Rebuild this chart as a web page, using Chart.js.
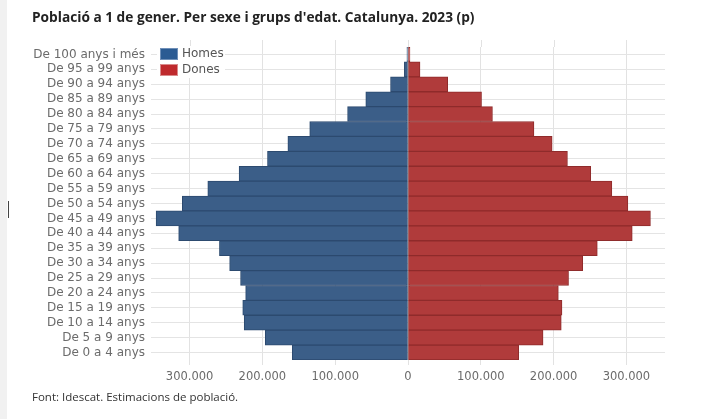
<!DOCTYPE html>
<html lang="ca">
<head>
<meta charset="utf-8">
<title>Població a 1 de gener. Per sexe i grups d'edat. Catalunya. 2023 (p)</title>
<script src="https://cdn.jsdelivr.net/npm/chart.js@4/dist/chart.umd.min.js"></script>
<style>
  html, body { margin: 0; padding: 0; background: #ffffff; }
  #wrap { position: relative; width: 702px; height: 419px; overflow: hidden; }
  #strip { position: absolute; left: 0; top: 0; width: 7px; height: 419px; background: #f1f1f1; }
  #mark { position: absolute; left: 8px; top: 201px; width: 1px; height: 17px; background: #444; }
  canvas { position: absolute; left: 0; top: 0; }
</style>
</head>
<body>
<div id="wrap">
  <div id="strip"></div>
  <div id="mark"></div>
  <canvas id="piramide" width="702" height="419"></canvas>
</div>
<script>
// Grups d'edat, de dalt a baix
const grups = [
  'De 100 anys i més', 'De 95 a 99 anys', 'De 90 a 94 anys', 'De 85 a 89 anys',
  'De 80 a 84 anys', 'De 75 a 79 anys', 'De 70 a 74 anys', 'De 65 a 69 anys',
  'De 60 a 64 anys', 'De 55 a 59 anys', 'De 50 a 54 anys', 'De 45 a 49 anys',
  'De 40 a 44 anys', 'De 35 a 39 anys', 'De 30 a 34 anys', 'De 25 a 29 anys',
  'De 20 a 24 anys', 'De 15 a 19 anys', 'De 10 a 14 anys', 'De 5 a 9 anys',
  'De 0 a 4 anys'
];

// Població per sexe (persones)
const homes = [
  1500, 5000, 24000, 58000, 83000, 135000, 165000, 193000, 232000, 275000, 310000,
  346000, 315000, 259000, 245000, 230000, 223000, 227000, 225000, 196000, 159000
];
const dones = [
  2700, 16500, 54500, 101000, 116000, 173000, 198000, 219000, 251000, 280000, 302000,
  333000, 308000, 260000, 240000, 220500, 206500, 211500, 210500, 185500, 152000
];

// Marques de l'eix horitzontal
const marques = [-300000, -200000, -100000, 0, 100000, 200000, 300000];

const titol = "Població a 1 de gener. Per sexe i grups d'edat. Catalunya. 2023 (p)";
const font = 'Font: Idescat. Estimacions de població.';

const COLOR_HOMES = '#3b5e88';
const COLOR_HOMES_VORA = '#2c4a6f';
const COLOR_DONES = '#b03b3b';
const COLOR_DONES_VORA = '#8f2b2b';
const LLETRA_EIXOS = '"DejaVu Sans", Verdana, sans-serif';

function formatMiler(v) {
  return Math.abs(v).toString().replace(/\B(?=(\d{3})+(?!\d))/g, '.');
}

// Títol, peu i llegenda dibuixats sobre el canvas
const textos = {
  id: 'textos',
  beforeDatasetsDraw(chart) {
    // les línies verticals de la graella pugen una mica per sobre de l'àrea
    const ctx = chart.ctx;
    const area = chart.chartArea;
    const x = chart.scales.x;
    ctx.save();
    ctx.strokeStyle = '#e2e2e2';
    ctx.lineWidth = 1;
    marques.forEach(v => {
      const px = Math.round(x.getPixelForValue(v)) + 0.5;
      ctx.beginPath();
      ctx.moveTo(px, area.top - 7);
      ctx.lineTo(px, area.top);
      ctx.stroke();
    });
    ctx.restore();
  },
  afterDraw(chart) {
    const ctx = chart.ctx;
    const area = chart.chartArea;
    ctx.save();
    ctx.textAlign = 'left';
    ctx.textBaseline = 'alphabetic';
    ctx.fillStyle = '#222222';
    ctx.font = 'bold 13.7px "Open Sans", sans-serif';
    ctx.fillText(titol, 32, 22);
    ctx.fillStyle = '#333333';
    ctx.font = '11.5px "Open Sans", sans-serif';
    ctx.fillText(font, 32, 401);

    // llegenda dins l'àrea del gràfic
    const lx = area.left + 6;
    const ly = area.top - 1;
    ctx.fillStyle = '#ffffff';
    ctx.fillRect(lx, ly, 68, 32);
    const entrades = [
      ['Homes', '#2b5b93', '#6f8fb8'],
      ['Dones', '#bf2a2d', '#d98a8b']
    ];
    ctx.font = '12px ' + LLETRA_EIXOS;
    ctx.textBaseline = 'middle';
    entrades.forEach((e, i) => {
      const y = ly + 3 + i * 16;
      ctx.fillStyle = e[1];
      ctx.fillRect(lx + 4, y, 16, 10);
      ctx.strokeStyle = e[2];
      ctx.lineWidth = 1;
      ctx.strokeRect(lx + 3.5, y - 0.5, 17, 11);
      ctx.fillStyle = '#555555';
      ctx.fillText(e[0], lx + 25, y + 5);
    });
    ctx.restore();
  }
};

new Chart(document.getElementById('piramide'), {
  type: 'bar',
  data: {
    labels: grups,
    datasets: [
      {
        label: 'Homes',
        data: homes.map(v => -v),
        backgroundColor: COLOR_HOMES,
        borderColor: COLOR_HOMES_VORA,
        borderWidth: 1,
        borderSkipped: false,
        barPercentage: 1,
        categoryPercentage: 1
      },
      {
        label: 'Dones',
        data: dones,
        backgroundColor: COLOR_DONES,
        borderColor: COLOR_DONES_VORA,
        borderWidth: 1,
        borderSkipped: false,
        barPercentage: 1,
        categoryPercentage: 1
      }
    ]
  },
  options: {
    indexAxis: 'y',
    responsive: false,
    animation: false,
    layout: { padding: { left: 0, top: 47, right: 37, bottom: 0 } },
    plugins: {
      legend: { display: false },
      title: { display: false },
      tooltip: { enabled: false }
    },
    scales: {
      x: {
        stacked: true,
        min: -353000,
        max: 353000,
        afterBuildTicks(scale) {
          scale.ticks = marques.map(v => ({ value: v }));
        },
        afterFit(scale) { scale.height = 59; },
        border: { display: false },
        grid: {
          color: '#e2e2e2',
          lineWidth: 1,
          drawTicks: true,
          tickLength: 5,
          tickColor: '#e2e2e2'
        },
        ticks: {
          padding: 5,
          color: '#6b6b6b',
          font: { family: LLETRA_EIXOS, size: 11.5 },
          callback: v => formatMiler(v)
        }
      },
      y: {
        stacked: true,
        afterFit(scale) { scale.width = 151; },
        border: { display: false },
        grid: {
          offset: false,
          color: '#e4e4e4',
          lineWidth: 1,
          drawTicks: false
        },
        ticks: {
          padding: 6,
          autoSkip: false,
          color: '#6b6b6b',
          font: { family: LLETRA_EIXOS, size: 12 }
        }
      }
    }
  },
  plugins: [textos]
});
</script>
</body>
</html>
